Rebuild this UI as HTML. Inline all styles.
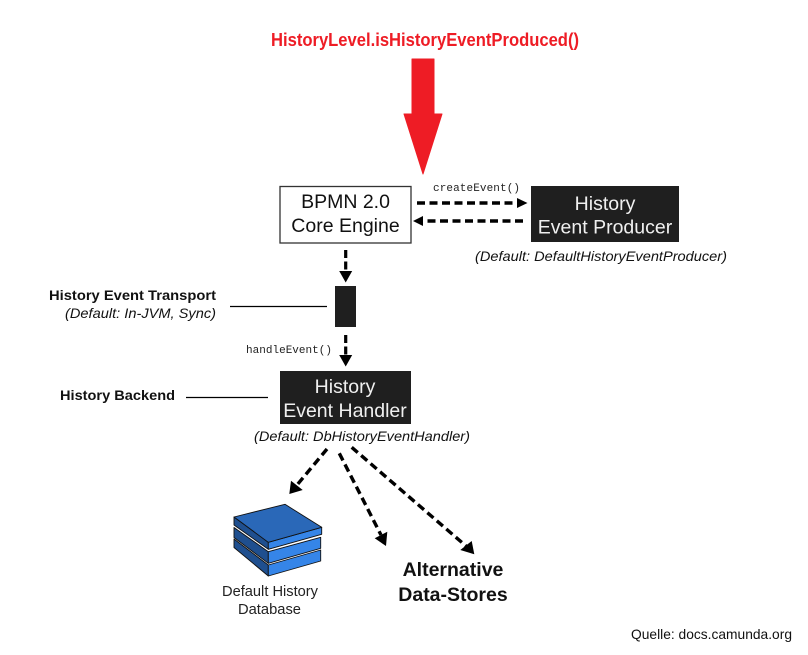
<!DOCTYPE html>
<html><head><meta charset="utf-8"><style>
html,body{margin:0;padding:0;background:#fff}
svg{display:block}
text{font-family:"Liberation Sans",Arial,sans-serif;fill:#111}
.m{font-family:"Liberation Mono",monospace;font-size:11px;fill:#222}
.w{fill:#f0f0f0;font-size:19.5px;text-anchor:middle}
.k{fill:#111;font-size:19.5px;text-anchor:middle}
.d{fill:none;stroke:#000;stroke-width:3.4;stroke-dasharray:8 4.5}
</style></head><body>
<svg width="808" height="655" viewBox="0 0 808 655" xmlns="http://www.w3.org/2000/svg">
<rect width="808" height="655" fill="#fff"/>
<text x="271" y="46" font-size="18.5" font-weight="bold" style="fill:#ee1c25" textLength="308" lengthAdjust="spacingAndGlyphs">HistoryLevel.isHistoryEventProduced()</text>
<path d="M412 59H434V114H442L423 174L404 114H412Z" fill="#ee1c25" stroke="#ee1c25" stroke-width="1" stroke-linejoin="round"/>

<rect x="280" y="186.5" width="131" height="56.5" fill="#fff" stroke="#333" stroke-width="1.3"/>
<text class="k" x="345.5" y="208">BPMN 2.0</text>
<text class="k" x="345.5" y="232">Core Engine</text>

<rect x="531" y="186" width="148" height="56" fill="#1f1f1f"/>
<text class="w" x="605" y="210">History</text>
<text class="w" x="605" y="233.500">Event Producer</text>
<text x="475" y="261" font-size="14" font-style="italic" textLength="252" lengthAdjust="spacingAndGlyphs">(Default: DefaultHistoryEventProducer)</text>

<text class="m" x="433" y="191" textLength="87">createEvent()</text>
<path class="d" d="M417 203H518"/>
<path d="M517 198L527.5 203L517 208Z" fill="#000"/>
<path class="d" d="M523 221H423"/>
<path d="M423 216L413 221L423 226Z" fill="#000"/>

<path d="M345.7 250V272" fill="none" stroke="#000" stroke-width="3.2" stroke-dasharray="8 3.5"/>
<path d="M339.2 271H352.200L345.7 282.5Z" fill="#000"/>
<rect x="335" y="286" width="21" height="41" fill="#1f1f1f"/>
<path d="M345.7 335V356" fill="none" stroke="#000" stroke-width="3.2" stroke-dasharray="8 3.5"/>
<path d="M339.2 355H352.200L345.7 366.5Z" fill="#000"/>
<text class="m" x="246" y="353" textLength="86">handleEvent()</text>

<text x="216" y="300" font-size="13.5" font-weight="bold" text-anchor="end" textLength="167" lengthAdjust="spacingAndGlyphs">History Event Transport</text>
<text x="216" y="318" font-size="14" font-style="italic" text-anchor="end" textLength="151" lengthAdjust="spacingAndGlyphs">(Default: In-JVM, Sync)</text>
<path d="M230 306.5H327" stroke="#000" stroke-width="1.2"/>

<rect x="280" y="371" width="131" height="53" fill="#1f1f1f"/>
<text class="w" x="345" y="393">History</text>
<text class="w" x="345" y="417">Event Handler</text>
<text x="60" y="400" font-size="13.5" font-weight="bold" textLength="115" lengthAdjust="spacingAndGlyphs">History Backend</text>
<path d="M186 397.5H268" stroke="#000" stroke-width="1.2"/>
<text x="254" y="441" font-size="14" font-style="italic" textLength="216" lengthAdjust="spacingAndGlyphs">(Default: DbHistoryEventHandler)</text>

<path class="d" d="M327 449L297 485"/>
<path d="M289.300 494L291 480.700L302.700 490Z" fill="#000"/>
<path class="d" d="M339.300 453.300L381 535"/>
<path d="M386 546L374.700 538.300L387.300 531.700Z" fill="#000"/>
<path class="d" d="M351.700 447.300L466 546"/>
<path d="M474.300 554.300L460.300 550L471.700 541Z" fill="#000"/>

<!-- database -->
<g stroke="#111" stroke-width="0.9" stroke-linejoin="round">
  <path d="M234 539L268.300 565V576L234 547.500Z" fill="#1f4f8f"/>
  <path d="M268.300 565L320.700 550V561L268.300 576Z" fill="#3585e8"/>
  <path d="M234 527.500L268.300 551.700V563.300L234 537.500Z" fill="#1f4f8f"/>
  <path d="M268.300 551.700L320.700 537.300V548.300L268.300 563.300Z" fill="#3585e8"/>
  <path d="M234 517L268.300 542.300V549.300L234 525Z" fill="#1f4f8f"/>
  <path d="M268.300 542.300L321.700 527.300V534.300L268.300 549.300Z" fill="#3585e8"/>
  <path d="M234 517L285 504.300L321.700 527.300L268.300 542.300Z" fill="#2a68b8"/>
</g>
<text x="222" y="596" font-size="14.500" style="fill:#222" textLength="96" lengthAdjust="spacingAndGlyphs">Default History</text>
<text x="238" y="614" font-size="14.500" style="fill:#222" textLength="63" lengthAdjust="spacingAndGlyphs">Database</text>
<text x="453" y="576" font-size="19.500" font-weight="bold" text-anchor="middle">Alternative</text>
<text x="453" y="601" font-size="19.500" font-weight="bold" text-anchor="middle">Data-Stores</text>
<text x="631" y="639" font-size="14" style="fill:#111" textLength="161" lengthAdjust="spacingAndGlyphs">Quelle: docs.camunda.org</text>
</svg>
</body></html>
